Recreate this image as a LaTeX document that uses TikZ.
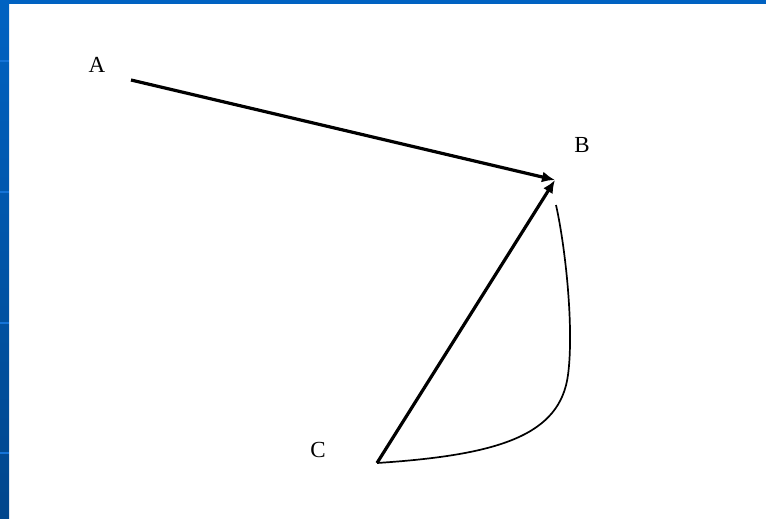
\documentclass[tikz,border=0pt]{standalone}
\usepackage{fontspec}
\setmainfont{Liberation Serif}
\usetikzlibrary{arrows.meta}
\definecolor{bartop}{RGB}{0,98,194}
\definecolor{barbot}{RGB}{0,70,140}
\definecolor{barstripe}{RGB}{20,115,215}
\begin{document}
\begin{tikzpicture}[x=1pt,y=-1pt,
  lbl/.style={inner sep=0pt,font=\fontsize{23}{27}\selectfont},
  vec/.style={line width=3.2pt,-{Latex[length=13pt,width=11pt]}},
  arcline/.style={line width=1.7pt}]
\useasboundingbox (0,0) rectangle (766,519);
\fill[white] (0,0) rectangle (766,519);
% blue frame
\shade[top color=bartop,bottom color=barbot] (0,0) rectangle (9,519);
\fill[bartop] (0,0) rectangle (766,4);
\foreach \yy in {61,192,323,453}
  \fill[barstripe] (0,\yy-1.2) rectangle (9,\yy+1.2);
% labels
\node[lbl] (lA) at (97,65) {A};
\node[lbl] (lB) at (582,145) {B};
\node[lbl] (lC) at (318,450) {C};
% points
\coordinate (A) at (131,80);
\coordinate (B) at (555,180);
\coordinate (Bc) at (556,205);
\coordinate (C) at (377,463);
% vectors
\draw[vec] (A) -- (B);
\draw[vec] (C) -- (B);
% curve from C up to B
\draw[arcline] (C) .. controls (500,455) and (560,435) .. (568,375)
  .. controls (574,330) and (566,250) .. (Bc);
\end{tikzpicture}
\end{document}
